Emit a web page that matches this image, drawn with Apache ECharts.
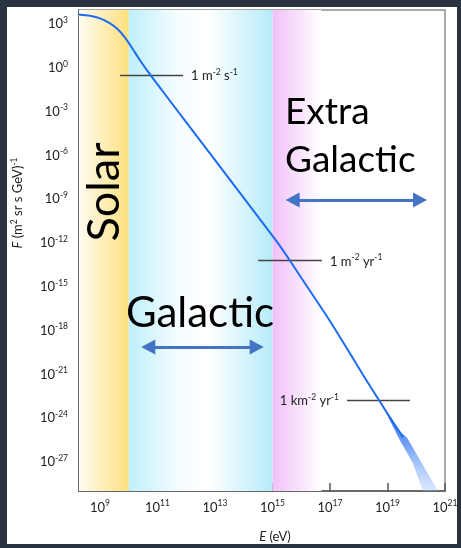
<!DOCTYPE html>
<html><head><meta charset="utf-8">
<script src="https://cdn.jsdelivr.net/npm/echarts@6/dist/echarts.min.js"></script>
<style>
html,body{margin:0;padding:0;background:#2a3440;width:461px;height:548px;overflow:hidden}
#panel{position:absolute;left:7px;top:7px;width:450px;height:537px;background:#fff}
#chart{position:absolute;left:0;top:0;width:461px;height:548px}
</style></head><body>
<div id="panel"></div><div id="chart"></div>
<script>
// ---- data (log10 values) ----
const logE = [8.27, 8.65, 9.00, 9.35, 9.60, 9.85, 10.10, 10.39, 10.74, 11.26, 12.93, 14.0, 15.0, 15.3, 15.61, 16.0, 16.93, 17.5, 18.15, 18.70, 19.0, 19.54];
const logF = [3.58, 3.49, 3.32, 2.98, 2.60, 2.05, 1.34, 0.45, -0.52, -1.88, -6.2, -8.98, -11.58, -12.38, -13.28, -14.45, -17.2, -19.0, -21.1, -22.82, -23.75, -25.36];
// uncertainty band at the highest energies
const bandUpperE = [18.9, 19.4, 19.68, 20.13, 20.76];
const bandUpperF = [-23.40, -24.92, -25.40, -26.93, -29.05];
const bandLowerE = [18.9, 19.43, 19.89, 20.23];
const bandLowerF = [-23.48, -25.58, -27.16, -29.05];
// axis ticks (exponents)
const xTicks = [9, 11, 13, 15, 17, 19, 21];
const yTicks = [3, 0, -3, -6, -9, -12, -15, -18, -21, -24, -27];
// regions (log10 E boundaries)
const regionNames = ['Solar', 'Galactic', 'Extra Galactic'];
const regionFrom = [8.27, 10, 15];
const regionTo = [10, 15, 16.7];
// flux reference lines
const refLabels = [['1 m', '-2', ' s', '-1'], ['1 m', '-2', ' yr', '-1'], ['1 km', '-2', ' yr', '-1']];
const refF = [-0.56, -13.28, -22.82];
const refFromE = [9.70, 14.50, 17.59];
const refToE = [11.89, 16.72, 19.78];
const refLabelPos = ['end', 'end', 'start'];
// arrows [fromE, toE, F]
const arrowFromE = [10.68, 15.70];
const arrowToE = [14.45, 20.13];
const arrowF = [-19.19, -9.12];

const FONT = 'Lato';
const chart = echarts.init(document.getElementById('chart'), null, {renderer: 'canvas'});
const G = echarts.graphic.LinearGradient;
const regionColors = [
  new G(0, 0, 1, 0, [{offset: 0, color: '#fffcf2'}, {offset: 1, color: '#fde07e'}]),
  new G(0, 0, 1, 0, [{offset: 0, color: '#bdeffb'}, {offset: 0.33, color: '#f4fcff'}, {offset: 0.55, color: '#ffffff'}, {offset: 1, color: '#b6ebf8'}]),
  new G(0, 0, 1, 0, [{offset: 0, color: '#f1c1f8'}, {offset: 1, color: '#ffffff'}])
];
const supRich = {
  b: {fontSize: 13, fontFamily: FONT, color: '#222', lineHeight: 15, verticalAlign: 'bottom'},
  s: {fontSize: 8.5, fontFamily: FONT, color: '#222', lineHeight: 9, verticalAlign: 'top'}
};
const refRich = {
  t: {fontSize: 13, fontFamily: FONT, color: '#222', lineHeight: 15, verticalAlign: 'bottom'},
  s: {fontSize: 8.5, fontFamily: FONT, color: '#222', lineHeight: 9, verticalAlign: 'top'}
};

const curve = logE.map((e, i) => [e, logF[i]]);
const bandPts = bandUpperE.map((e, i) => [e, bandUpperF[i]])
  .concat(bandLowerE.map((e, i) => [e, bandLowerF[i]]).reverse());

const refLineData = refF.map((f, i) => [
  {coord: [refFromE[i], f], label: {show: true, position: refLabelPos[i], distance: 8,
    formatter: '{t|' + refLabels[i][0] + '}{s|' + refLabels[i][1] + '}{t|' + refLabels[i][2] + '}{s|' + refLabels[i][3] + '}',
    rich: refRich}},
  {coord: [refToE[i], f]}
]);
const arrowData = arrowF.map((f, i) => [
  {coord: [arrowFromE[i], f]}, {coord: [arrowToE[i], f]}
]);

chart.setOption({
  animation: false,
  grid: {left: 79, top: 10, right: 16, bottom: 57, containLabel: false, outerBoundsMode: 'none',
    show: true, borderColor: '#8c8c8c', borderWidth: 1.5, backgroundColor: 'transparent'},
  xAxis: {
    type: 'value', min: 8.27, max: 21,
    axisLine: {onZero: false, lineStyle: {color: '#555', width: 1.5}},
    axisTick: {inside: true, length: 8, customValues: xTicks, lineStyle: {color: '#555', width: 1.5}},
    axisLabel: {customValues: xTicks, margin: 8, formatter: v => '{b|10}{s|' + v + '}', rich: supRich},
    splitLine: {show: false}
  },
  yAxis: {
    type: 'value', min: -29.05, max: 3.89,
    axisLine: {onZero: false, lineStyle: {color: '#555', width: 1.5}},
    axisTick: {inside: true, length: 8, customValues: yTicks, lineStyle: {color: '#555', width: 1.5}},
    axisLabel: {customValues: yTicks, margin: 11, formatter: v => '{b|10}{s|' + v + '}', rich: supRich},
    splitLine: {show: false}
  },
  series: [
    {
      type: 'line', name: 'flux', data: curve, smooth: 0.25, symbol: 'none', z: 5,
      lineStyle: {color: '#1d6cf0', width: 2},
      markArea: {
        silent: true,
        data: regionFrom.map((a, i) => [{name: regionNames[i], xAxis: a, itemStyle: {color: regionColors[i]}}, {xAxis: regionTo[i]}]),
        label: {show: false}
      }
    },
    {
      type: 'custom', name: 'band', z: 4, data: [0],
      renderItem: (params, api) => ({
        type: 'polygon',
        shape: {points: bandPts.map(p => api.coord(p))},
        style: {fill: new G(0, 0, 0, 1, [{offset: 0, color: 'rgba(30,100,240,1)'}, {offset: 0.45, color: 'rgba(70,130,245,0.75)'}, {offset: 1, color: 'rgba(150,190,250,0.35)'}])}
      })
    },
    {
      type: 'line', name: 'ref', data: [], z: 6,
      markLine: {silent: true, symbol: ['none', 'none'], lineStyle: {color: '#444', width: 1.3, type: 'solid'}, data: refLineData}
    },
    {
      type: 'line', name: 'arrows', data: [], z: 6,
      markLine: {silent: true, symbol: ['triangle', 'triangle'], symbolSize: [15, 14], label: {show: false},
        lineStyle: {color: '#4472c4', width: 3, type: 'solid'}, itemStyle: {color: '#4472c4'}, data: arrowData}
    }
  ],
  graphic: [
    {type: 'text', x: 17, y: 203, rotation: Math.PI / 2, z: 100,
      style: {text: '{i|F} {n|(m}{s|2}{n| sr s GeV)}{s|-1}', align: 'center', verticalAlign: 'middle',
        rich: {i: {fontSize: 13, fontStyle: 'italic', fontFamily: FONT, fill: '#222', lineHeight: 15, verticalAlign: 'bottom'},
               n: {fontSize: 13, fontFamily: FONT, fill: '#222', lineHeight: 15, verticalAlign: 'bottom'},
               s: {fontSize: 8.5, fontFamily: FONT, fill: '#222', lineHeight: 9, verticalAlign: 'top'}}}},
    {type: 'text', x: 275, y: 537, z: 100,
      style: {text: '{i|E} {n|(eV)}', align: 'center', verticalAlign: 'middle',
        rich: {i: {fontSize: 13, fontStyle: 'italic', fontFamily: FONT, fill: '#222'},
               n: {fontSize: 13, fontFamily: FONT, fill: '#222'}}}},
    {type: 'text', x: 104, y: 192, rotation: Math.PI / 2, z: 100,
      style: {text: 'Solar', fontSize: 45, fontFamily: FONT, fill: '#000', align: 'center', verticalAlign: 'middle'}},
    {type: 'text', x: 200, y: 313, z: 100,
      style: {text: 'Galactic', fontSize: 42, fontFamily: FONT, fill: '#000', align: 'center', verticalAlign: 'middle'}},
    {type: 'text', x: 285, y: 112, z: 100,
      style: {text: 'Extra', fontSize: 37, fontFamily: FONT, fill: '#000', align: 'left', verticalAlign: 'middle'}},
    {type: 'text', x: 285, y: 160, z: 100,
      style: {text: 'Galactic', fontSize: 37, fontFamily: FONT, fill: '#000', align: 'left', verticalAlign: 'middle'}}
  ]
});
</script></body></html>
